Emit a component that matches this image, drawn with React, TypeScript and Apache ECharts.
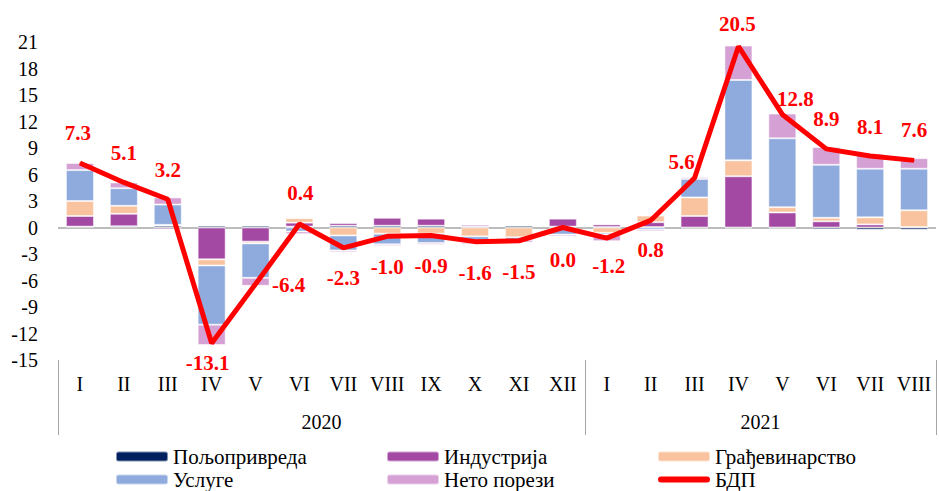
import React, { useEffect, useRef } from "react";
import * as echarts from "echarts";

const months = ["I", "II", "III", "IV", "V", "VI", "VII", "VIII", "IX", "X", "XI", "XII", "I", "II", "III", "IV", "V", "VI", "VII", "VIII"];
const years = ["2020", "2021"];
const yearSpans = [12, 8];

const seriesNames = ["Пољопривреда", "Индустрија", "Грађевинарство", "Услуге", "Нето порези", "БДП"];

const agriculture = [0.1, 0.15, 0.2, 0.2, 0.2, 0.1, 0.2, 0.2, 0.2, 0.1, 0.2, 0.1, 0.05, 0.05, -0.1, -0.1, -0.1, -0.2, -0.25, -0.25];
const industry = [1.2, 1.4, -0.2, -3.6, -1.6, 0.45, 0.3, 0.9, 0.8, 0.2, 0.05, 0.9, 0.3, 0.55, 1.3, 5.8, 1.7, 0.7, 0.35, 0.05];
const construction = [1.7, 0.9, 0.1, -0.7, -0.2, 0.5, -0.9, -0.7, -0.7, -1.0, -1.1, -0.1, -0.6, 0.75, 2.1, 1.8, 0.6, 0.4, 0.8, 1.9];
const services = [3.5, 2.0, 2.3, -6.7, -3.9, -0.45, -1.7, -1.2, -1.05, -0.7, -0.3, -0.7, -0.2, -0.25, 2.1, 9.1, 7.8, 6.0, 5.5, 4.7];
const netTaxes = [0.8, 0.65, 0.8, -2.3, -0.9, -0.3, -0.2, -0.2, -0.2, -0.2, -0.3, -0.2, -0.75, -0.2, 0.2, 3.9, 2.8, 2.0, 1.7, 1.2];
const gdp = [7.3, 5.1, 3.2, -13.1, -6.4, 0.4, -2.3, -1.0, -0.9, -1.6, -1.5, 0.0, -1.2, 0.8, 5.6, 20.5, 12.8, 8.9, 8.1, 7.6];

const yTicks = { min: -15, max: 21, interval: 3 };

// label offsets (style only)
const labelOffsets: [number, number][] = [
  [-2, -30], [0, -29], [0, -29], [-4, 20], [33, 1], [1, -31],
  [0, 30], [0, 31], [0, 31], [0, 31], [0, 31], [0, 32],
  [2, 28], [0, 30], [-13, -16], [-1, -22], [13, -15], [0, -30], [0, -29], [0, -30],
];

const colors = ["#002060", "#A349A4", "#F8C39E", "#8FAADC", "#D5A1D4", "#FF0000"];
const FONT = "'Liberation Serif', 'Times New Roman', serif";
const LINE_ICON = "path://M3,0 H49 A3,3 0 0 1 49,6 H3 A3,3 0 0 1 3,0 Z";

export default function App() {
  const ref = useRef<HTMLDivElement>(null);
  useEffect(() => {
    document.body.style.margin = "0";
    if (!ref.current) return;
    const chart = echarts.init(ref.current, undefined, { renderer: "svg" });
    const barData = [agriculture, industry, construction, services, netTaxes];
    const bars = barData.map((d, i) => ({
      name: seriesNames[i],
      type: "bar",
      stack: "total",
      barWidth: 28,
      data: d,
      itemStyle: { color: colors[i], borderColor: "rgba(255,255,255,0.5)", borderWidth: 1 },
      ...(i === 0
        ? {
            markLine: {
              silent: true,
              symbol: ["none", "none"],
              label: { show: false },
              lineStyle: { color: "#A6A6A6", width: 1.5, type: "solid" },
              data: [{ yAxis: 0 }],
              z: 1,
            },
          }
        : {}),
    }));
    const yearOf = (i: number) => {
      let acc = 0;
      for (let k = 0; k < yearSpans.length; k++) {
        acc += yearSpans[k];
        if (i < acc) return years[k];
      }
      return "";
    };
    const yearLabelIdx = (() => {
      const res: number[] = [];
      let start = 0;
      for (const s of yearSpans) {
        res.push(start + s / 2 - 1);
        start += s;
      }
      return res;
    })();
    const yearBoundaryIdx = (() => {
      const res: number[] = [0];
      let start = 0;
      for (let k = 0; k < yearSpans.length - 1; k++) {
        start += yearSpans[k];
        res.push(start);
      }
      return res;
    })();

    const legendCommon = {
      orient: "vertical",
      itemWidth: 52,
      itemHeight: 10,
      itemGap: 2,
      top: 446,
      height: 80,
      padding: 0,
      textStyle: { fontFamily: FONT, fontSize: 21, lineHeight: 21, color: "#000" },
      selectedMode: false,
    };

    chart.setOption({
      animation: false,
      grid: { left: 58, right: 3, top: 42, bottom: 131 },
      legend: [
        { ...legendCommon, left: 115, data: [seriesNames[0], seriesNames[3]] },
        { ...legendCommon, left: 386, data: [seriesNames[1], seriesNames[4]] },
        { ...legendCommon, left: 657, data: [seriesNames[2], { name: seriesNames[5], icon: LINE_ICON }] },
      ],
      xAxis: [
        {
          type: "category",
          data: months,
          position: "bottom",
          axisLine: { show: false, onZero: false },
          axisTick: { show: false },
          axisLabel: { fontFamily: FONT, fontSize: 20, color: "#000", margin: 14, interval: 0 },
        },
        {
          type: "category",
          data: months,
          position: "bottom",
          axisLine: { show: false, onZero: false },
          axisTick: {
            show: true,
            length: 75,
            interval: (i: number) => yearBoundaryIdx.includes(i),
            lineStyle: { color: "#A6A6A6", width: 1 },
          },
          axisLabel: {
            fontFamily: FONT,
            fontSize: 20,
            color: "#000",
            margin: 52,
            interval: (i: number) => yearLabelIdx.includes(i),
            formatter: (_v: string, i: number) => yearOf(i),
            padding: [0, 0, 0, 44],
          },
        },
      ],
      yAxis: {
        type: "value",
        min: yTicks.min,
        max: yTicks.max,
        interval: yTicks.interval,
        axisLine: { show: false },
        axisTick: { show: false },
        splitLine: { show: false },
        axisLabel: { fontFamily: FONT, fontSize: 20, color: "#000", margin: 20 },
      },
      series: [
        ...bars,
        {
          name: seriesNames[5],
          type: "line",
          data: gdp.map((v, i) => ({
            value: v,
            label: { offset: labelOffsets[i] },
          })),
          symbol: "circle",
          symbolSize: 1,
          lineStyle: { color: colors[5], width: 5 },
          itemStyle: { color: colors[5] },
          z: 5,
          label: {
            show: true,
            position: "inside",
            fontFamily: FONT,
            fontSize: 21,
            fontWeight: "bold",
            color: colors[5],
            formatter: (p: any) => Number(p.value).toFixed(1),
          },
        },
      ],
    });
    return () => chart.dispose();
  }, []);
  return <div ref={ref} style={{ width: 939, height: 491 }} />;
}
